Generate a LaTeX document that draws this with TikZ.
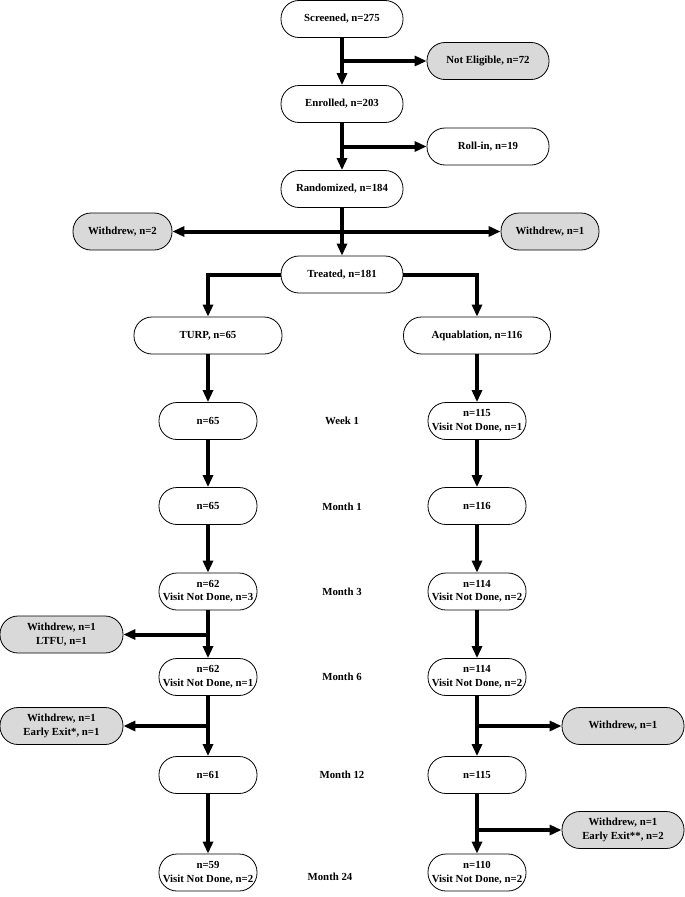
\documentclass[tikz,border=0pt]{standalone}
\usepackage{fontspec}
\setmainfont{Liberation Serif}
\usetikzlibrary{arrows.meta}
\definecolor{boxgray}{RGB}{217,217,217}
\tikzset{
  box/.style={draw, line width=0.8bp, rounded corners=18bp, minimum height=37bp,
    inner sep=0pt, align=center, fill=white,
    font=\bfseries\fontsize{10.8bp}{13.5bp}\selectfont},
  gbox/.style={box, fill=boxgray},
  arr/.style={line width=4bp, -{Triangle[length=12bp,width=10bp]}},
  lbl/.style={font=\bfseries\fontsize{10.8bp}{13.5bp}\selectfont, inner sep=0pt}
}
\begin{document}
\begin{tikzpicture}[x=1bp,y=-1bp]
\fill[white] (0,0) rectangle (685,897);
\useasboundingbox (0,0) rectangle (685,897);
% top flow
\node[box, minimum width=122bp] (scr) at (342,19) {Screened, n=275};
\node[gbox, minimum width=122bp] (ne) at (488,61) {Not Eligible, n=72};
\node[box, minimum width=122bp] (enr) at (342,104) {Enrolled, n=203};
\node[box, minimum width=122bp] (roll) at (488,146.5) {Roll-in, n=19};
\node[box, minimum width=122bp] (rand) at (342,189) {Randomized, n=184};
\node[gbox, minimum width=99bp] (wl) at (122.5,231.5) {Withdrew, n=2};
\node[gbox, minimum width=98bp] (wr) at (550,231.5) {Withdrew, n=1};
\node[box, minimum width=122bp] (trt) at (342,274.5) {Treated, n=181};
\node[box, minimum width=148bp] (turp) at (208,335.5) {TURP, n=65};
\node[box, minimum width=147bp] (aqua) at (477,335.5) {Aquablation, n=116};
% left arm
\node[box, minimum width=98bp] (L1) at (208,421) {n=65};
\node[box, minimum width=98bp] (L2) at (208,506) {n=65};
\node[box, minimum width=98bp] (L3) at (208,591.5) {n=62\\Visit Not Done, n=3};
\node[gbox, minimum width=123bp] (ltfu) at (61.5,634.5) {Withdrew, n=1\\LTFU, n=1};
\node[box, minimum width=98bp] (L4) at (208,677) {n=62\\Visit Not Done, n=1};
\node[gbox, minimum width=123bp] (ee) at (61.5,726) {Withdrew, n=1\\Early Exit*, n=1};
\node[box, minimum width=98bp] (L5) at (208,775) {n=61};
\node[box, minimum width=98bp] (L6) at (208,872.5) {n=59\\Visit Not Done, n=2};
% right arm
\node[box, minimum width=98bp] (R1) at (477,421) {n=115\\Visit Not Done, n=1};
\node[box, minimum width=98bp] (R2) at (477,506) {n=116};
\node[box, minimum width=98bp] (R3) at (477,591.5) {n=114\\Visit Not Done, n=2};
\node[box, minimum width=98bp] (R4) at (477,677) {n=114\\Visit Not Done, n=2};
\node[gbox, minimum width=122bp] (wr6) at (623,726) {Withdrew, n=1};
\node[box, minimum width=98bp] (R5) at (477,775) {n=115};
\node[gbox, minimum width=122bp] (ee2) at (623,830) {Withdrew, n=1\\Early Exit**, n=2};
\node[box, minimum width=98bp] (R6) at (477,872.5) {n=110\\Visit Not Done, n=2};
% time labels
\node[lbl] (t1) at (342,421) {Week 1};
\node[lbl] (t2) at (342,507) {Month 1};
\node[lbl] (t3) at (342,592) {Month 3};
\node[lbl] (t4) at (342,677) {Month 6};
\node[lbl] (t5) at (342,775) {Month 12};
\node[lbl] (t6) at (330,877) {Month 24};
% connectors
\draw[arr] (scr) -- (enr);
\draw[arr] (scr.south |- ne.west) -- (ne);
\draw[arr] (enr) -- (rand);
\draw[arr] (enr.south |- roll.west) -- (roll);
\draw[arr] (rand) -- (trt);
\draw[arr] (rand.south |- wl.east) -- (wl);
\draw[arr] (rand.south |- wr.west) -- (wr);
\draw[arr] (trt.west) -| (turp);
\draw[arr] (trt.east) -| (aqua);
\draw[arr] (turp) -- (L1);
\draw[arr] (L1) -- (L2);
\draw[arr] (L2) -- (L3);
\draw[arr] (L3) -- (L4);
\draw[arr] (L4) -- (L5);
\draw[arr] (L5) -- (L6);
\draw[arr] (L3.south |- ltfu.east) -- (ltfu);
\draw[arr] (L4.south |- ee.east) -- (ee);
\draw[arr] (aqua) -- (R1);
\draw[arr] (R1) -- (R2);
\draw[arr] (R2) -- (R3);
\draw[arr] (R3) -- (R4);
\draw[arr] (R4) -- (R5);
\draw[arr] (R5) -- (R6);
\draw[arr] (R4.south |- wr6.west) -- (wr6);
\draw[arr] (R5.south |- ee2.west) -- (ee2);
\end{tikzpicture}
\end{document}
